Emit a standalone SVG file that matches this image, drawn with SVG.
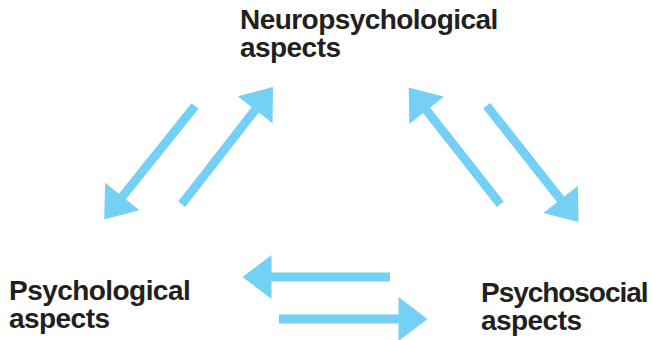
<svg xmlns="http://www.w3.org/2000/svg" width="651" height="340" viewBox="0 0 651 340">
  <style>
    .lbl { font-family: "Liberation Sans", Arial, Helvetica, sans-serif; font-weight: bold; font-size: 28px; letter-spacing: -0.55px; fill: #231F20; }
    .tight { letter-spacing: -1.05px; }
    .arr { stroke: #75D0F5; stroke-width: 9; fill: none; stroke-linecap: butt; marker-end: url(#head); }
  </style>
  <defs>
    <marker id="head" markerUnits="userSpaceOnUse" markerWidth="30" markerHeight="44" refX="0.5" refY="22" orient="auto" viewBox="0 0 29 44">
      <path d="M0,0 L29,22 L0,44 Z" fill="#75D0F5"/>
    </marker>
  </defs>
  <rect width="651" height="340" fill="#FFFFFF"/>
  <g id="connectors">
    <line class="arr" x1="195" y1="106" x2="122" y2="197"/>
    <line class="arr" x1="181.7" y1="204.2" x2="255.5" y2="109.4"/>
    <line class="arr" x1="500.3" y1="204.2" x2="426.3" y2="110"/>
    <line class="arr" x1="486.7" y1="105.8" x2="560.9" y2="199.7"/>
    <line class="arr" x1="390" y1="277" x2="271" y2="277"/>
    <line class="arr" x1="279" y1="319" x2="399" y2="319"/>
  </g>
  <g id="neuropsychological">
    <text class="lbl" x="240" y="29">Neuropsychological</text>
    <text class="lbl" x="240" y="57">aspects</text>
  </g>
  <g id="psychological">
    <text class="lbl" x="9" y="300">Psychological</text>
    <text class="lbl" x="9" y="328">aspects</text>
  </g>
  <g id="psychosocial">
    <text class="lbl tight" x="481" y="302">Psychosocial</text>
    <text class="lbl" x="481" y="330">aspects</text>
  </g>
</svg>
